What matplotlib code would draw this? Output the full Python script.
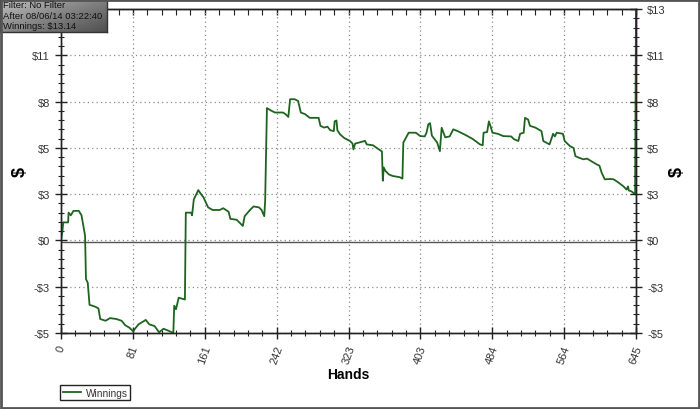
import numpy as np
import matplotlib
matplotlib.use("Agg")
import matplotlib.pyplot as plt
from matplotlib.ticker import AutoMinorLocator, FixedLocator
from matplotlib.patches import Rectangle

plt.rcParams['font.family'] = ['Liberation Sans', 'DejaVu Sans']

# cumulative winnings (hand number, dollars)
hands = [0, 1.5, 2.5, 8, 8.5, 11, 14, 20, 23, 27, 28, 30, 32, 38, 42, 44, 50, 55, 62, 68,
         72, 77, 81, 83, 87, 92, 95, 99, 105, 110, 115, 120, 126, 127, 129, 132, 139, 140, 146, 147,
         149, 154, 157, 160, 165, 170, 178, 182, 188, 190, 197, 204, 206, 212, 216, 222, 225, 228, 229, 231,
         236, 240, 249, 252, 255, 257, 262, 266, 269, 274, 279, 289, 291, 295, 299, 302, 306, 307, 309, 310,
         313, 318, 324, 327, 328, 330, 334, 341, 343, 350, 357, 360, 361, 362, 364, 368, 372, 380, 383, 384,
         390, 398, 403, 408, 410, 412, 414, 416, 422, 425, 427, 431, 436, 440, 445, 455, 462, 470, 473, 474,
         478, 480, 482, 484, 490, 496, 505, 508, 513, 515, 519, 520.5, 524, 526, 532, 539, 541, 548, 552, 554,
         556, 563, 565, 571, 575, 577, 581, 586, 590, 595, 601, 604, 606.5, 610, 616, 620, 625, 631, 634.5, 636,
         637, 640, 644, 645]
winnings = [0.1, 0.55, 1.1, 1.1, 1.65, 1.5, 1.75, 1.75, 1.5, 0.35, -2.1, -2.3, -3.55, -3.65, -3.75, -4.35, -4.45, -4.3, -4.35, -4.45,
            -4.7, -4.85, -5.05, -4.9, -4.65, -4.5, -4.4, -4.65, -4.75, -5.1, -4.9, -5.0, -5.14, -3.6, -3.8, -3.15, -3.25, 1.65, 1.65, 1.5,
            2.4, 2.92, 2.7, 2.5, 1.95, 1.8, 1.8, 1.9, 1.7, 1.3, 1.25, 0.9, 1.45, 1.8, 2.0, 1.95, 1.8, 1.45, 2.3, 7.55,
            7.4, 7.3, 7.3, 7.2, 7.05, 8.05, 8.05, 7.95, 7.3, 7.2, 7.0, 7.0, 6.55, 6.45, 6.5, 6.3, 6.25, 6.8, 6.85, 6.3,
            6.07, 5.85, 5.7, 5.55, 5.22, 5.55, 5.6, 5.7, 5.5, 5.45, 5.2, 5.1, 3.45, 4.2, 4.0, 3.8, 3.72, 3.65, 3.57, 5.6,
            6.16, 6.16, 5.97, 5.95, 6.16, 6.63, 6.7, 6.0, 5.6, 5.12, 6.44, 5.9, 5.95, 6.35, 6.25, 6.0, 5.8, 5.5, 5.45, 6.16,
            6.2, 6.8, 6.5, 6.16, 6.1, 5.97, 5.95, 5.8, 5.69, 6.1, 6.16, 7.0, 6.9, 6.55, 6.45, 6.25, 5.69, 5.5, 6.1, 5.95,
            6.16, 6.1, 5.69, 5.4, 5.3, 4.84, 4.75, 4.66, 4.7, 4.55, 4.37, 4.3, 3.9, 3.53, 3.55, 3.53, 3.36, 3.13, 2.95, 3.13,
            2.9, 2.85, 2.68, 13.14]

x_labels = ['0', '81', '161', '242', '323', '403', '484', '564', '645']
y_labels = ['-$5', '-$3', '$0', '$3', '$5', '$8', '$11', '$13']
y_min, y_max = -5.14, 13.14
info_lines = ['Filter: No Filter', 'After 08/06/14 03:22:40', 'Winnings: $13.14']

W, H = 700, 410
fig = plt.figure(figsize=(W / 100, H / 100), dpi=100)
fig.patch.set_facecolor('white')
ax = fig.add_axes([61 / W, 1 - 334 / H, 575 / W, 324 / H])

line_color = '#1e6420'
ax.plot(hands, winnings, color=line_color, lw=1.3, label='Winnings', zorder=3)
ax.axhline(0, color='#555555', lw=1, zorder=2)

ax.set_xlim(0, 645)
ax.set_ylim(y_min, y_max)

xt = np.linspace(0, 645, len(x_labels))
yt = np.linspace(y_min, y_max, len(y_labels))
ax.set_xticks(xt)
ax.set_xticklabels(x_labels, rotation=70, ha='center', va='top')
ax.set_yticks(yt)
ax.set_yticklabels(y_labels)
ax.xaxis.set_minor_locator(AutoMinorLocator(5))
ax.yaxis.set_minor_locator(AutoMinorLocator(5))

ax.grid(True, which='major', color='#8a8a8a', lw=0.9, linestyle=(0, (1, 2.5)))

ax.tick_params(axis='both', which='major', direction='inout', length=9, width=1,
               labelsize=8, labelcolor='#333333', color='#222222')
ax.tick_params(axis='both', which='minor', direction='inout', length=5, width=0.8, color='#222222')
ax.tick_params(axis='x', which='major', pad=3)
for s in ax.spines.values():
    s.set_color('#222222')
    s.set_linewidth(1)

# top ticks pointing inward only
top = ax.secondary_xaxis('top')
top.set_xticks(xt)
top.xaxis.set_minor_locator(FixedLocator(np.linspace(0, 645, 41)))
top.tick_params(which='major', direction='in', length=4, width=1, labeltop=False, color='#222222')
top.tick_params(which='minor', direction='in', length=4, width=0.8, color='#222222')
top.spines['top'].set_color('#222222')

# right axis mirrors the left one
ax2 = ax.twinx()
ax2.set_ylim(y_min, y_max)
ax2.set_yticks(yt)
ax2.set_yticklabels(y_labels)
ax2.yaxis.set_minor_locator(AutoMinorLocator(5))
ax2.tick_params(axis='y', which='major', direction='inout', length=9, width=1,
                labelsize=8, labelcolor='#333333', color='#222222')
ax2.tick_params(axis='y', which='minor', direction='inout', length=5, width=0.8, color='#222222')
for s in ax2.spines.values():
    s.set_color('#222222')
    s.set_linewidth(1)

ax.set_xlabel('Hands', fontsize=10, fontweight='bold', labelpad=2)
ax.set_ylabel('$', fontsize=13, fontweight='bold', rotation=90, labelpad=2)
ax2.set_ylabel('$', fontsize=13, fontweight='bold', rotation=90, labelpad=2.5)

leg = ax.legend(loc='upper left', bbox_to_anchor=(60 / W, 1 - 386 / H), bbox_transform=fig.transFigure,
                fontsize=7.3, frameon=True, fancybox=False, framealpha=1, edgecolor='#222222',
                handlelength=1.8, borderpad=0.25, handletextpad=0.5, borderaxespad=0)
leg.get_frame().set_linewidth(1)
for t in leg.get_texts():
    t.set_color('#333333')

# info box, top left
box = fig.add_axes([0, 1 - 33 / H, 107 / W, 33 / H])
gx, gy = np.meshgrid(np.linspace(0, 1, 100), np.linspace(0, 1, 30))
grad = 0.55 * gx + 0.45 * gy
box.imshow(grad, cmap='Greys', vmin=-0.9, vmax=1.6, aspect='auto', extent=[0, 1, 1, 0])
box.set_xlim(0, 1)
box.set_ylim(1, 0)
box.set_xticks([])
box.set_yticks([])
for s in box.spines.values():
    s.set_color('#333333')
    s.set_linewidth(1)
fig.text(3 / W, 1 - 1.5 / H, '\n'.join(info_lines), fontsize=6.8, color='#111111',
         va='top', ha='left', linespacing=1.18)

# outer frame
fig.patches.append(Rectangle((0.001, 0.002), 0.997, 0.996, transform=fig.transFigure,
                             fill=False, edgecolor='#555555', lw=2, zorder=0))

fig.savefig('out.png', dpi=100)
